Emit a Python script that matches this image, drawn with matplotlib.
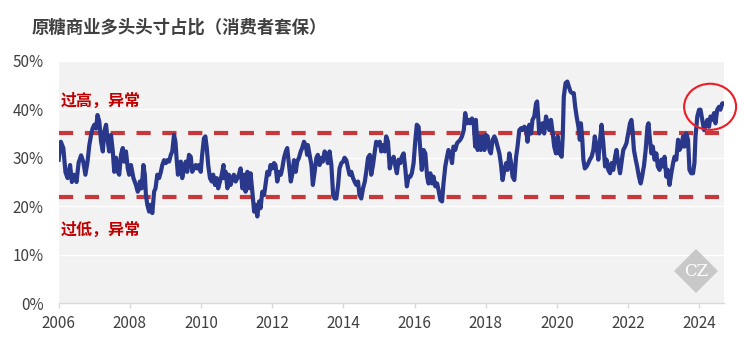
import matplotlib

matplotlib.use("Agg")
import matplotlib.pyplot as plt
from matplotlib.patches import Ellipse, RegularPolygon

plt.rcParams["font.family"] = ["Noto Sans CJK SC", "DejaVu Sans"]

TITLE = "原糖商业多头头寸占比（消费者套保）"
HIGH_LABEL = "过高，异常"
LOW_LABEL = "过低，异常"

# thresholds drawn as the two dashed lines (%)
HIGH_LEVEL = 35.0
LOW_LEVEL = 21.9

X_TICKS = list(range(2006, 2025, 2))
Y_TICKS = [0, 10, 20, 30, 40, 50]

# decimal year of each reading, every 2-3 weeks
years = [
    2006.00, 2006.06, 2006.13, 2006.19, 2006.25, 2006.32, 2006.37, 2006.44, 2006.50, 2006.56,
    2006.63, 2006.69, 2006.75, 2006.81, 2006.86, 2006.91, 2006.95, 2007.00, 2007.05, 2007.09,
    2007.14, 2007.19, 2007.24, 2007.28, 2007.33, 2007.38, 2007.42, 2007.47, 2007.52, 2007.56,
    2007.61, 2007.66, 2007.70, 2007.75, 2007.80, 2007.84, 2007.89, 2007.94, 2007.98, 2008.03,
    2008.10, 2008.17, 2008.22, 2008.27,
    2008.28, 2008.33, 2008.38, 2008.42, 2008.45, 2008.49, 2008.54, 2008.58, 2008.63, 2008.68,
    2008.72, 2008.77, 2008.82, 2008.87, 2008.91, 2008.96, 2009.01, 2009.05, 2009.10, 2009.15,
    2009.19, 2009.24, 2009.28, 2009.31, 2009.35, 2009.39, 2009.43, 2009.47, 2009.52, 2009.57,
    2009.61, 2009.66, 2009.71, 2009.75, 2009.80, 2009.85, 2009.89, 2009.94, 2009.99, 2010.03,
    2010.08, 2010.12, 2010.16, 2010.20, 2010.25, 2010.30, 2010.34, 2010.39, 2010.44, 2010.48,
    2010.53, 2010.58, 2010.63,
    2010.64, 2010.69, 2010.74, 2010.78, 2010.83, 2010.88, 2010.92, 2010.97, 2011.02, 2011.06,
    2011.11, 2011.16, 2011.21, 2011.25, 2011.30, 2011.35, 2011.39, 2011.44, 2011.49, 2011.53,
    2011.58, 2011.63, 2011.67, 2011.72, 2011.77, 2011.81, 2011.86, 2011.91, 2011.95, 2012.00,
    2012.05, 2012.09, 2012.14, 2012.19, 2012.24, 2012.28, 2012.33, 2012.38, 2012.42, 2012.47,
    2012.52, 2012.56, 2012.61, 2012.66, 2012.70, 2012.75, 2012.80, 2012.84, 2012.89, 2012.94,
    2012.98,
    2013.00, 2013.05, 2013.10, 2013.14, 2013.19, 2013.24, 2013.28, 2013.33, 2013.38, 2013.42,
    2013.47, 2013.52, 2013.56, 2013.61, 2013.66, 2013.71, 2013.75, 2013.80, 2013.85, 2013.89,
    2013.94, 2013.99, 2014.03, 2014.08, 2014.13, 2014.17, 2014.22, 2014.27, 2014.31, 2014.36,
    2014.41, 2014.45, 2014.50, 2014.55, 2014.60, 2014.64, 2014.69, 2014.74, 2014.78, 2014.83,
    2014.88, 2014.92, 2014.97, 2015.02, 2015.06, 2015.11, 2015.16, 2015.20, 2015.25, 2015.30,
    2015.34,
    2015.36, 2015.41, 2015.46, 2015.50, 2015.55, 2015.60, 2015.64, 2015.69, 2015.74, 2015.78,
    2015.83, 2015.88, 2015.92, 2015.97, 2016.02, 2016.06, 2016.11, 2016.16, 2016.20, 2016.25,
    2016.30, 2016.35, 2016.39, 2016.44, 2016.49, 2016.53, 2016.58, 2016.63, 2016.67, 2016.72,
    2016.77, 2016.81, 2016.86, 2016.91, 2016.95, 2017.00, 2017.05, 2017.09, 2017.14, 2017.19,
    2017.23, 2017.28, 2017.33, 2017.38, 2017.42, 2017.47, 2017.52, 2017.56, 2017.61, 2017.66,
    2017.70,
    2017.72, 2017.77, 2017.82, 2017.86, 2017.91, 2017.96, 2018.00, 2018.05, 2018.10, 2018.14,
    2018.19, 2018.24, 2018.28, 2018.33, 2018.38, 2018.42, 2018.47, 2018.52, 2018.57, 2018.61,
    2018.66, 2018.71, 2018.75, 2018.80, 2018.85, 2018.89, 2018.94, 2018.99, 2019.03, 2019.08,
    2019.13, 2019.17, 2019.22, 2019.27, 2019.31, 2019.36, 2019.41, 2019.44, 2019.47, 2019.50,
    2019.55, 2019.59, 2019.64, 2019.69, 2019.74, 2019.78, 2019.83, 2019.88, 2019.92, 2019.97,
    2020.02, 2020.06,
    2020.08, 2020.13, 2020.16, 2020.19, 2020.24, 2020.29, 2020.33, 2020.38, 2020.43, 2020.47,
    2020.51, 2020.55, 2020.60, 2020.64, 2020.67, 2020.71, 2020.74, 2020.78, 2020.83, 2020.88,
    2020.92, 2020.97, 2021.02, 2021.06, 2021.11, 2021.16, 2021.20, 2021.25, 2021.30, 2021.35,
    2021.39, 2021.44, 2021.49, 2021.53, 2021.58, 2021.63, 2021.67, 2021.72, 2021.77, 2021.81,
    2021.86, 2021.91, 2021.95, 2022.00, 2022.05, 2022.09, 2022.12, 2022.16, 2022.21, 2022.25,
    2022.30, 2022.35, 2022.39, 2022.42,
    2022.44, 2022.49, 2022.54, 2022.57, 2022.61, 2022.65, 2022.69, 2022.74, 2022.79, 2022.83,
    2022.88, 2022.93, 2022.97, 2023.02, 2023.07, 2023.11, 2023.16, 2023.21, 2023.26, 2023.30,
    2023.35, 2023.40, 2023.44, 2023.49, 2023.54, 2023.58, 2023.63, 2023.68, 2023.72, 2023.77,
    2023.82, 2023.86, 2023.89, 2023.94, 2023.99, 2024.03, 2024.08, 2024.13, 2024.17, 2024.22,
    2024.27, 2024.31, 2024.36, 2024.41, 2024.45, 2024.50, 2024.55, 2024.59, 2024.64, 2024.69,
]

# commercial long share, consumer hedgers (%)
share = [
    29.6, 33.3, 32.0, 27.0, 25.8, 28.5, 25.0, 26.5, 25.0, 29.0,
    30.5, 29.2, 26.5, 29.2, 32.6, 34.7, 36.0, 36.8, 36.0, 38.8,
    37.5, 33.3, 31.3, 35.4, 36.8, 33.3, 31.3, 34.7, 31.3, 27.1,
    30.0, 27.1, 26.5, 30.6, 32.0, 29.2, 31.3, 27.8, 26.5, 28.5,
    25.8, 24.4, 23.0, 23.7,
    25.1, 23.7, 28.5, 26.5, 22.3, 20.3, 18.9, 20.3, 18.6, 23.0,
    23.7, 26.5, 25.8, 27.1, 28.5, 29.5, 28.9, 29.5, 29.2, 30.6,
    31.3, 34.7, 33.3, 30.0, 26.5, 27.8, 29.2, 25.8, 27.8, 29.2,
    27.1, 30.6, 30.2, 27.1, 27.8, 28.5, 27.8, 28.5, 27.1, 30.6,
    34.0, 34.4, 32.0, 28.5, 25.8, 25.1, 26.5, 24.4, 25.8, 23.7,
    25.1, 26.5, 28.5,
    25.8, 27.1, 23.7, 26.5, 24.4, 25.8, 26.5, 25.1, 25.8, 26.5,
    27.8, 23.7, 26.5, 23.0, 27.1, 23.7, 26.8, 23.0, 18.9, 20.3,
    17.9, 21.0, 19.6, 23.0, 22.3, 24.4, 27.1, 26.5, 28.5, 27.8,
    28.9, 28.5, 25.1, 27.1, 26.5, 27.8, 30.0, 31.3, 32.0, 28.5,
    25.1, 26.5, 29.5, 27.1, 29.2, 30.0, 31.3, 32.0, 33.3, 32.6,
    30.6,
    32.6, 30.6, 28.5, 24.4, 27.1, 30.0, 30.6, 28.5, 30.0, 29.2,
    31.3, 30.6, 28.9, 31.3, 28.5, 22.3, 21.6, 21.6, 24.4, 27.8,
    28.9, 29.2, 30.0, 29.5, 27.8, 26.5, 27.1, 25.8, 25.1, 24.4,
    25.1, 22.3, 21.6, 23.7, 25.1, 27.1, 30.0, 30.6, 26.5, 28.5,
    31.3, 33.3, 32.6, 33.3, 31.3, 32.6, 31.3, 34.4, 33.3, 27.8,
    29.2,
    29.6, 30.2, 28.2, 26.8, 29.6, 28.9, 30.2, 30.9, 27.5, 24.1,
    26.1, 26.1, 26.8, 28.9, 33.7, 36.8, 36.4, 31.6, 27.5, 31.6,
    30.9, 26.1, 24.7, 26.8, 24.7, 26.1, 24.1, 24.7, 23.4, 21.3,
    21.0, 24.7, 28.2, 30.2, 31.6, 30.9, 28.9, 32.3, 31.6, 33.0,
    33.3, 33.7, 34.4, 35.7, 39.2, 37.1, 37.8, 37.1, 38.1, 37.1,
    32.3,
    37.8, 31.6, 34.4, 31.6, 34.4, 31.6, 34.7, 34.4, 31.6, 30.9,
    33.7, 34.4, 33.7, 32.3, 30.9, 28.9, 25.4, 27.5, 28.9, 27.5,
    30.9, 28.9, 26.1, 25.4, 30.2, 32.3, 35.7, 36.1, 35.7, 36.4,
    36.1, 33.3, 36.8, 35.0, 37.8, 38.5, 41.2, 41.6, 38.5, 35.0,
    35.7, 37.1, 35.0, 38.5, 37.1, 35.7, 37.8, 35.0, 32.3, 30.9,
    34.4, 30.9,
    30.9, 30.2, 34.4, 42.6, 45.4, 45.7, 44.7, 43.6, 43.3, 43.3,
    40.5, 38.5, 36.4, 33.7, 37.1, 33.7, 29.6, 27.8, 28.2, 28.9,
    29.6, 30.2, 31.6, 34.4, 32.3, 29.6, 33.0, 36.8, 33.0, 28.2,
    29.6, 27.5, 26.8, 28.9, 27.5, 30.2, 31.6, 28.9, 26.8, 28.9,
    31.6, 32.3, 33.0, 35.0, 37.1, 37.8, 35.7, 31.6, 29.6, 28.2,
    26.1, 24.7, 26.1, 27.5,
    28.2, 31.6, 36.4, 37.1, 33.7, 30.9, 32.3, 29.6, 30.9, 28.2,
    27.5, 29.6, 28.2, 30.2, 26.1, 27.5, 24.4, 26.8, 28.9, 30.2,
    29.6, 33.7, 31.6, 32.3, 34.4, 32.3, 35.0, 33.7, 27.5, 26.8,
    26.8, 28.9, 34.4, 38.5, 39.9, 39.9, 37.8, 35.7, 36.4, 37.8,
    36.4, 38.5, 37.8, 39.2, 37.1, 39.9, 40.5, 39.9, 41.2, 41.2,
]

LINE_COLOR = "#29388a"
DASH_COLOR = "#c8373a"
LABEL_COLOR = "#c00000"
TEXT_COLOR = "#404040"

fig = plt.figure(figsize=(7.44, 3.56), dpi=100)
ax = fig.add_axes([0.0789, 0.148, 0.8942, 0.6815])
ax.set_facecolor("#f2f2f2")

ax.set_xlim(2006, 2024.69)
ax.set_ylim(0, 50)
ax.set_xticks(X_TICKS)
ax.set_xticklabels([str(y) for y in X_TICKS])
ax.set_yticks(Y_TICKS)
ax.set_yticklabels([f"{v}%" for v in Y_TICKS])
ax.grid(axis="y", color="white", linewidth=1.0)
ax.set_axisbelow(True)

for side in ("top", "right", "left"):
    ax.spines[side].set_visible(False)
ax.spines["bottom"].set_color("#d9d9d9")
ax.spines["bottom"].set_linewidth(1.0)
ax.tick_params(axis="x", colors="#d9d9d9", length=3.5, width=1.0, pad=5,
               labelcolor=TEXT_COLOR, labelsize=11)
ax.tick_params(axis="y", length=0, pad=11, labelcolor=TEXT_COLOR, labelsize=11)

for level in (HIGH_LEVEL, LOW_LEVEL):
    ax.axhline(level, color=DASH_COLOR, linewidth=3.0, linestyle=(0, (3.4, 2.8)), zorder=2)

ax.plot(years, share, color=LINE_COLOR, linewidth=3.0, solid_joinstyle="round", zorder=3)

ax.text(2006.07, 41.7, HIGH_LABEL, color=LABEL_COLOR, fontsize=11.5, fontweight="bold",
        ha="left", va="center")
ax.text(2006.05, 15.1, LOW_LABEL, color=LABEL_COLOR, fontsize=11.5, fontweight="bold",
        ha="left", va="center")

# red ring around the latest readings
ax.add_patch(Ellipse((2024.30, 40.5), width=1.46, height=9.5, fill=False,
                     edgecolor="#ee1c25", linewidth=1.5, clip_on=False, zorder=4))

# faint "CZ" diamond watermark, bottom right
fig.patches.append(RegularPolygon((6.96, 0.85), numVertices=4, radius=0.22,
                                  transform=fig.dpi_scale_trans, facecolor="#c8c8c8",
                                  edgecolor="none", zorder=1))
fig.text(696 / 744, 1 - 271 / 356, "CZ", color="white", fontsize=12, family="DejaVu Serif",
         ha="center", va="center", zorder=2)

fig.text(32 / 744, 1 - 28 / 356, TITLE, color=TEXT_COLOR, fontsize=12.5, fontweight="bold",
         ha="left", va="center")

fig.savefig("out.png", dpi=100)
